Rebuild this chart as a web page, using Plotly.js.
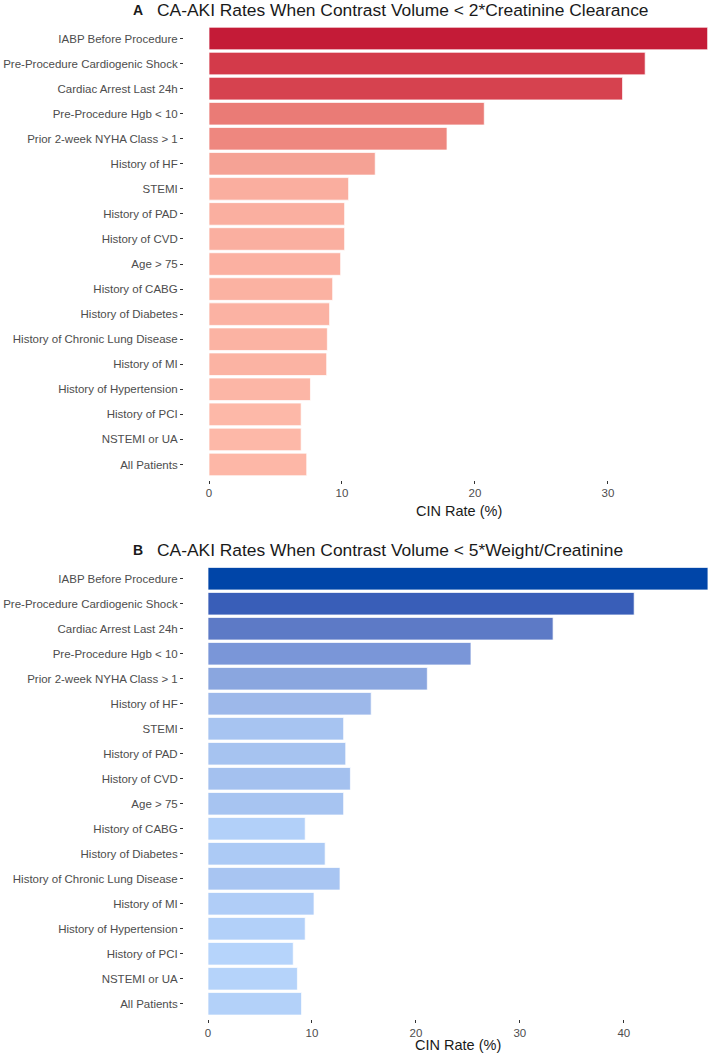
<!DOCTYPE html>
<html>
<head>
<meta charset="utf-8">
<script src="https://cdn.plot.ly/plotly-3.0.1.min.js"></script>
<style>html,body{margin:0;padding:0;background:#fff;}#chart{width:709px;height:1056px;}</style>
</head>
<body>
<div id="chart"></div>
<script>
// Categories (top to bottom)
const categories = [
  "IABP Before Procedure",
  "Pre-Procedure Cardiogenic Shock",
  "Cardiac Arrest Last 24h",
  "Pre-Procedure Hgb < 10",
  "Prior 2-week NYHA Class > 1",
  "History of HF",
  "STEMI",
  "History of PAD",
  "History of CVD",
  "Age > 75",
  "History of CABG",
  "History of Diabetes",
  "History of Chronic Lung Disease",
  "History of MI",
  "History of Hypertension",
  "History of PCI",
  "NSTEMI or UA",
  "All Patients"
];

// Panel A: CIN rate (%) when contrast volume < 2*Creatinine Clearance
const ratesA = [37.5, 32.8, 31.1, 20.7, 17.9, 12.5, 10.5, 10.2, 10.2, 9.9, 9.3, 9.07, 8.9, 8.85, 7.63, 6.93, 6.93, 7.35];
// Panel B: CIN rate (%) when contrast volume < 5*Weight/Creatinine
const ratesB = [48.1, 41.0, 33.2, 25.3, 21.1, 15.7, 13.05, 13.25, 13.7, 13.05, 9.35, 11.27, 12.7, 10.2, 9.35, 8.2, 8.6, 9.0];

const ticksA = [0, 10, 20, 30];
const ticksB = [0, 10, 20, 30, 40];

const titleA = "CA-AKI Rates When Contrast Volume < 2*Creatinine Clearance";
const titleB = "CA-AKI Rates When Contrast Volume < 5*Weight/Creatinine";
const xTitle = "CIN Rate (%)";

const redScale = [[0,'#FDB8A8'],[0.12,'#FAAE9F'],[0.18,'#F5A295'],[0.36,'#EE877F'],[0.45,'#EA7B76'],[0.79,'#D6424F'],[0.85,'#D33A4A'],[1,'#C41B37']];
const blueScale = [[0,'#B6D4FB'],[0.12,'#A7C4F1'],[0.19,'#9DB8EA'],[0.32,'#8AA6DF'],[0.43,'#7A96D8'],[0.63,'#5C7AC6'],[0.82,'#3A5EB8'],[1,'#0045A8']];

const W = 709, H = 1056;
const px = v => v / W;
const py = v => 1 - v / H;

function barTrace(vals, scale, xa, ya) {
  return {
    type: 'bar', orientation: 'h',
    x: vals, y: categories,
    xaxis: xa, yaxis: ya,
    marker: {
      color: vals, colorscale: scale,
      cmin: Math.min(...vals), cmax: Math.max(...vals),
      showscale: false,
      line: {color: 'rgba(255,255,255,0.9)', width: 0.8}
    },
    hoverinfo: 'x+y'
  };
}

const tickFont = {family: 'Liberation Sans, Arial, sans-serif', size: 11.5, color: '#4D4D4D'};

function xAxis(ticks, range, anchor) {
  return {
    domain: [px(184), 1], anchor: anchor, range: range,
    tickmode: 'array', tickvals: ticks, ticktext: ticks.map(String),
    ticks: 'outside', ticklen: 3, tickwidth: 1, tickcolor: '#333333',
    showgrid: false, zeroline: false, showline: false,
    tickfont: tickFont, fixedrange: true
  };
}
function yAxis(domain, anchor) {
  return {
    domain: domain, anchor: anchor, type: 'category',
    range: [categories.length - 0.4, -0.6],
    ticks: 'outside', ticklen: 3, tickwidth: 1, tickcolor: '#333333',
    showgrid: false, zeroline: false, showline: false,
    tickfont: tickFont, fixedrange: true
  };
}

const data = [
  barTrace(ratesA, redScale, 'x', 'y'),
  barTrace(ratesB, blueScale, 'x2', 'y2')
];

const titleFont = {family: 'Liberation Sans, Arial, sans-serif', size: 17.4, color: '#1A1A1A'};
const tagFont = {family: 'Liberation Sans, Arial, sans-serif', size: 14, color: '#1A1A1A'};
const axTitleFont = {family: 'Liberation Sans, Arial, sans-serif', size: 14.5, color: '#1A1A1A'};

const layout = {
  width: W, height: H,
  margin: {l: 0, r: 0, t: 0, b: 0},
  paper_bgcolor: '#FFFFFF', plot_bgcolor: '#FFFFFF',
  showlegend: false,
  bargap: 0.1,
  xaxis: xAxis(ticksA, [-1.88, 37.6], 'y'),
  yaxis: yAxis([py(479.5), py(23.5)], 'x'),
  xaxis2: xAxis(ticksB, [-2.31, 48.2], 'y2'),
  yaxis2: yAxis([py(1018.8), py(563.7)], 'x2'),
  annotations: [
    {text: '<b>A</b>', x: px(131), y: py(10), xref: 'paper', yref: 'paper', xanchor: 'left', yanchor: 'middle', showarrow: false, font: tagFont},
    {text: titleA, x: px(155), y: py(10), xref: 'paper', yref: 'paper', xanchor: 'left', yanchor: 'middle', showarrow: false, font: titleFont},
    {text: xTitle, x: px(459), y: py(511), xref: 'paper', yref: 'paper', xanchor: 'center', yanchor: 'middle', showarrow: false, font: axTitleFont},
    {text: '<b>B</b>', x: px(131), y: py(549.5), xref: 'paper', yref: 'paper', xanchor: 'left', yanchor: 'middle', showarrow: false, font: tagFont},
    {text: titleB, x: px(155), y: py(549.5), xref: 'paper', yref: 'paper', xanchor: 'left', yanchor: 'middle', showarrow: false, font: titleFont},
    {text: xTitle, x: px(458), y: py(1045), xref: 'paper', yref: 'paper', xanchor: 'center', yanchor: 'middle', showarrow: false, font: axTitleFont}
  ]
};

Plotly.newPlot('chart', data, layout, {displayModeBar: false, staticPlot: true});
</script>
</body>
</html>
